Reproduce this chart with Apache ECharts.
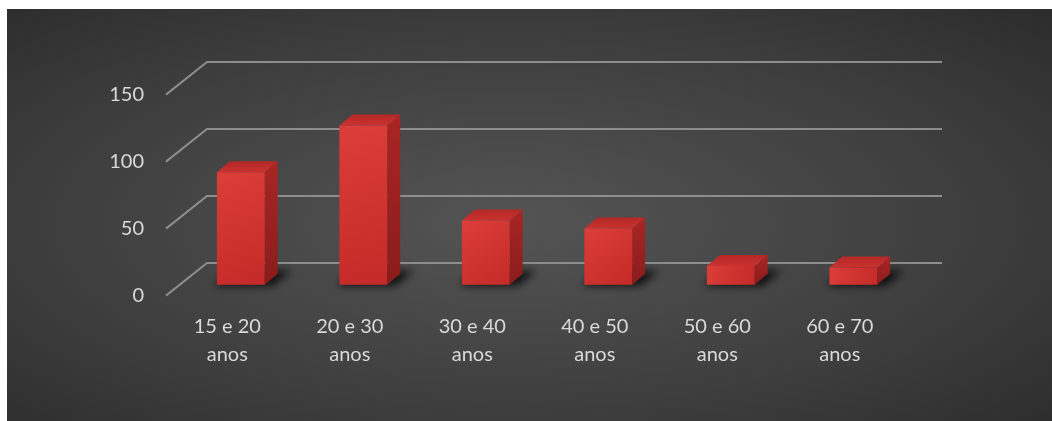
<!DOCTYPE html>
<html>
<head>
<meta charset="utf-8">
<script src="https://cdn.jsdelivr.net/npm/echarts@6/dist/echarts.min.js"></script>
<style>
  html, body { margin: 0; padding: 0; background: #ffffff; }
  #chart { width: 1052px; height: 421px; }
</style>
</head>
<body>
<div id="chart"></div>
<script>
const categories = ['15 e 20\nanos', '20 e 30\nanos', '30 e 40\nanos', '40 e 50\nanos', '50 e 60\nanos', '60 e 70\nanos'];
const values = [84, 119, 48, 42, 14, 13];
const yTicks = [0, 50, 100, 150];

// Oblique projection: the front edge of the floor sits left of / below the back wall.
const DEPTH_X = -41, DEPTH_Y = 32.6;
const BAR_POS = 0.67;            // front face of each column, as a fraction of the floor depth
const BAR_DX = 13, BAR_DY = -11; // column thickness in the projection
const BAR_W = 0.39;              // front face width, share of the category band
const SHADOW_SHIFT = 3000;       // floor shadow is drawn off-canvas, only its blur lands on the floor

const back = { left: 207, right: 110, top: 62, bottom: 158 };
const front = {
  left: back.left + DEPTH_X, right: back.right - DEPTH_X,
  top: back.top + DEPTH_Y, bottom: back.bottom - DEPTH_Y
};

const textColor = '#d9d9d9';
const font = 'Lato, "Open Sans", sans-serif';

const chart = echarts.init(document.getElementById('chart'), null, { renderer: 'canvas' });

function renderGridLine(params, api) {
  const v = api.value(1);
  const band = api.size([1, 0])[0];
  const pL = api.coord([0, v]);
  const pR = api.coord([categories.length - 1, v]);
  const xl = pL[0] - band / 2, xr = pR[0] + band / 2, y = pL[1];
  return {
    type: 'polyline',
    shape: { points: [[xl + DEPTH_X, y + DEPTH_Y], [xl, y], [xr, y]] },
    style: { stroke: '#8d8d8d', lineWidth: 2, fill: null }
  };
}

function renderColumn(params, api) {
  const i = api.value(0), v = api.value(1);
  const base = api.coord([i, 0]);
  const top = api.coord([i, v]);
  const band = api.size([1, 0])[0];
  const w = band * BAR_W;
  const cx = base[0] + DEPTH_X * BAR_POS;
  const yb = base[1] + DEPTH_Y * BAR_POS;
  const h = base[1] - top[1];
  const x0 = cx - w / 2, x1 = cx + w / 2, yt = yb - h;
  const s = SHADOW_SHIFT;
  return {
    type: 'group',
    children: [
      {
        type: 'polygon',
        shape: { points: [[x0 - 3 - s, yb + 1], [x1 + 8 - s, yb + 1], [x1 + BAR_DX + 14 - s, yb + BAR_DY - 3], [x0 + BAR_DX - s, yb + BAR_DY - 3]] },
        style: { fill: '#000', shadowBlur: 9, shadowColor: 'rgba(0,0,0,0.8)', shadowOffsetX: s, shadowOffsetY: 0 }
      },
      {
        type: 'polygon',
        shape: { points: [[x1, yb], [x1, yt], [x1 + BAR_DX, yt + BAR_DY], [x1 + BAR_DX, yb + BAR_DY]] },
        style: {
          fill: new echarts.graphic.LinearGradient(0, 0, 0, 1, [
            { offset: 0, color: '#a82624' },
            { offset: 1, color: '#8a1c1c' }
          ])
        }
      },
      {
        type: 'polygon',
        shape: { points: [[x0, yt], [x1, yt], [x1 + BAR_DX, yt + BAR_DY], [x0 + BAR_DX, yt + BAR_DY]] },
        style: {
          fill: new echarts.graphic.LinearGradient(0, 1, 0, 0, [
            { offset: 0, color: '#c93230' },
            { offset: 1, color: '#b42826' }
          ])
        }
      },
      {
        type: 'rect',
        shape: { x: x0, y: yt, width: w, height: h },
        style: {
          fill: new echarts.graphic.LinearGradient(0, 0, 1, 1, [
            { offset: 0, color: '#dc3e39' },
            { offset: 1, color: '#c42a28' }
          ])
        }
      }
    ]
  };
}

chart.setOption({
  animation: false,
  backgroundColor: '#ffffff',
  graphic: [{
    type: 'rect',
    x: 7, y: 9,
    scaleX: 2.5,
    z: -10,
    silent: true,
    shape: { x: 0, y: 0, width: 1045 / 2.5, height: 412 },
    style: {
      fill: new echarts.graphic.RadialGradient(0.48, 0.52, 0.85, [
        { offset: 0, color: '#545454' },
        { offset: 0.55, color: '#3d3d3d' },
        { offset: 1, color: '#252525' }
      ])
    }
  }],
  grid: [
    { left: back.left, right: back.right, top: back.top, bottom: back.bottom },
    { left: front.left, right: front.right, top: front.top, bottom: front.bottom }
  ],
  xAxis: [
    { type: 'category', gridIndex: 0, data: categories, show: false },
    {
      type: 'category', gridIndex: 1, data: categories,
      axisLine: { show: false }, axisTick: { show: false },
      axisLabel: { color: textColor, fontSize: 20, fontFamily: font, lineHeight: 28, margin: 17, interval: 0 }
    }
  ],
  yAxis: [
    { type: 'value', gridIndex: 0, min: 0, max: 150, interval: 50, show: false },
    {
      type: 'value', gridIndex: 1, min: 0, max: 150, interval: 50,
      axisLine: { show: false }, axisTick: { show: false }, splitLine: { show: false },
      axisLabel: { color: textColor, fontSize: 20, fontFamily: font, margin: 22 }
    }
  ],
  series: [
    {
      type: 'custom', xAxisIndex: 0, yAxisIndex: 0, silent: true,
      data: yTicks.map(v => [0, v]),
      renderItem: renderGridLine
    },
    {
      type: 'custom', xAxisIndex: 0, yAxisIndex: 0, silent: true,
      data: values.map((v, i) => [i, v]),
      renderItem: renderColumn
    }
  ]
});
</script>
</body>
</html>
